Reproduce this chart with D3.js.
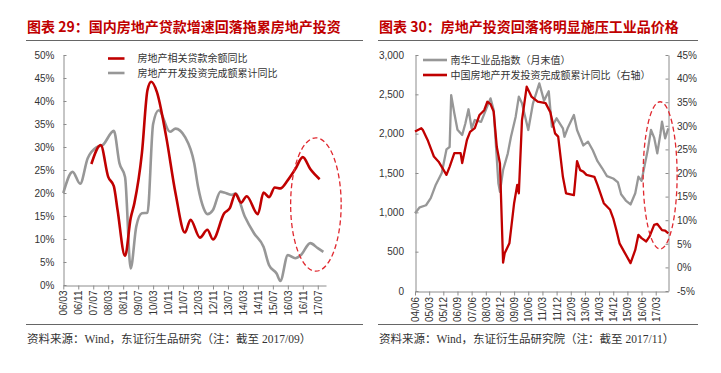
<!DOCTYPE html>
<html><head><meta charset="utf-8">
<script src="https://cdn.jsdelivr.net/npm/d3@7"></script>
<style>body{margin:0;background:#fff}svg{display:block}</style>
</head><body>
<svg id="c" width="721" height="373"></svg>
<script>
// ---------------- DATA ----------------
const leftTitle = "图表 29：国内房地产贷款增速回落拖累房地产投资";
const rightTitle = "图表 30：房地产投资回落将明显施压工业品价格";
const leftSource = "资料来源：Wind，东证衍生品研究（注：截至 2017/09）";
const rightSource = "资料来源：Wind，东证衍生品研究院（注：截至 2017/11）";

const leftSeriesNames = ["房地产相关贷款余额同比", "房地产开发投资完成额累计同比"];
const rightSeriesNames = ["南华工业品指数（月末值）", "中国房地产开发投资完成额累计同比（右轴）"];

const leftXTickLabels = ["06/03","06/11","07/07","08/03","08/11","09/07","10/03","10/11","11/07","12/03","12/11","13/07","14/03","14/11","15/07","16/03","16/11","17/07"];
const leftYTicks = [0,5,10,15,20,25,30,35,40,45,50];

const rightXTickLabels = ["04/06","05/03","05/12","06/09","07/06","08/03","08/12","09/09","10/06","11/03","11/12","12/09","13/06","14/03","14/12","15/09","16/06","17/03"];
const rightYLeftTicks = [0,500,1000,1500,2000,2500,3000];
const rightYRightTicks = [-5,0,5,10,15,20,25,30,35,40,45];

// 房地产相关贷款余额同比 (%)
const loanGrowth = [["2007-05",26.3],["2007-10",30.4],["2008-02",23.5],["2008-05",21.5],["2008-07",16.3],["2008-11",6.3],["2009-02",14.5],["2009-04",17.8],["2009-08",28.6],["2009-11",42.4],["2010-01",44.2],["2010-04",42.0],["2010-09",32.2],["2011-02",19.9],["2011-07",11.4],["2011-10",14.2],["2012-03",10.3],["2012-07",12.0],["2012-10",9.9],["2013-04",15.6],["2013-07",16.7],["2013-10",19.8],["2014-01",17.9],["2014-04",19.3],["2014-10",15.4],["2015-01",20.1],["2015-04",19.1],["2015-07",21.2],["2015-10",21.0],["2016-02",22.8],["2016-06",25.2],["2016-10",27.8],["2017-02",25.2],["2017-07",23.0]];

// 房地产开发投资完成额累计同比 (%), left panel
const investGrowthLeft = [["2006-02",20.0],["2006-07",24.6],["2006-11",22.0],["2007-03",27.5],["2007-08",30.0],["2007-11",30.4],["2008-05",33.5],["2008-08",26.5],["2008-11",23.5],["2009-02",3.6],["2009-05",12.7],["2009-08",15.6],["2009-11",15.7],["2010-02",35.0],["2010-05",38.0],["2010-11",33.3],["2011-02",34.0],["2011-07",32.2],["2011-12",26.4],["2012-02",21.4],["2012-05",16.7],["2012-07",15.4],["2012-10",16.3],["2013-02",20.3],["2013-04",20.1],["2013-08",19.6],["2013-10",19.9],["2014-03",14.9],["2014-08",11.2],["2015-01",8.3],["2015-04",4.3],["2015-08",2.5],["2015-10",0.9],["2016-02",6.5],["2016-06",5.8],["2016-09",6.5],["2017-02",9.1],["2017-06",8.0],["2017-09",7.2]];

// 南华工业品指数（月末值）
const nanhuaIndex = [["2004-06",988],["2004-09",1064],["2005-01",1090],["2005-04",1180],["2005-07",1340],["2005-11",1500],["2006-02",1800],["2006-04",1830],["2006-05",2490],["2006-07",2260],["2006-09",2050],["2006-12",1983],["2007-02",2130],["2007-04",2310],["2007-06",2068],["2007-08",2174],["2007-12",2150],["2008-04",2350],["2008-06",2449],["2008-08",2300],["2008-11",1369],["2008-12",1262],["2009-02",1538],["2009-05",1750],["2009-07",1961],["2009-10",2216],["2009-12",2470],["2010-02",2386],["2010-06",2047],["2010-09",2386],["2011-01",2640],["2011-04",2420],["2011-07",2540],["2011-09",2088],["2011-12",2195],["2012-04",2068],["2012-05",1961],["2012-07",2068],["2012-11",2237],["2013-01",2047],["2013-05",1850],["2013-08",1898],["2013-11",1790],["2014-02",1650],["2014-05",1560],["2014-08",1460],["2014-12",1430],["2015-03",1380],["2015-05",1230],["2015-08",1150],["2015-11",1100],["2016-02",1242],["2016-04",1453],["2016-06",1400],["2016-08",1600],["2016-10",1800],["2016-12",2047],["2017-02",1950],["2017-04",1750],["2017-06",2000],["2017-07",2152],["2017-09",1941],["2017-11",2068]];

// 中国房地产开发投资完成额累计同比 (%), right panel, right axis
const investGrowthRight = [["2004-06",28.8],["2004-10",29.5],["2004-11",29.1],["2005-02",27.0],["2005-06",23.5],["2005-09",22.4],["2005-11",21.3],["2006-02",19.6],["2006-04",21.3],["2006-07",24.2],["2006-11",24.2],["2006-12",22.1],["2007-03",27.0],["2007-05",28.7],["2007-08",29.5],["2007-11",32.3],["2008-02",33.3],["2008-04",35.1],["2008-06",34.6],["2008-08",33.0],["2008-10",25.5],["2008-12",22.0],["2009-02",1.0],["2009-03",3.0],["2009-06",5.1],["2009-09",13.6],["2009-11",17.5],["2009-12",15.7],["2010-02",31.2],["2010-05",38.3],["2010-08",36.2],["2010-12",35.1],["2011-05",34.8],["2011-08",32.9],["2011-11",28.4],["2012-01",27.7],["2012-04",19.2],["2012-06",15.7],["2012-11",15.3],["2013-01",22.5],["2013-03",20.6],["2013-05",20.3],["2013-07",19.6],["2013-12",19.2],["2014-02",17.5],["2014-06",13.6],["2014-10",12.2],["2014-12",10.4],["2015-02",7.9],["2015-04",5.1],["2015-07",3.3],["2015-11",0.9],["2016-02",3.7],["2016-04",6.9],["2016-06",6.2],["2016-09",5.5],["2016-11",6.5],["2017-02",9.0],["2017-04",9.2],["2017-07",7.9],["2017-09",7.8],["2017-11",7.2]];

// ---------------- DRAWING ----------------
const RED = "#c00000", GRAY = "#979797", AXIS = "#8c8c8c", TXT = "#333";
const NUMFONT = "'Liberation Sans', Arial, sans-serif";
const CJK = "'Noto Sans CJK SC', sans-serif";
const svg = d3.select("#c");

function monthsSince(s, base) {
  const [y, m] = s.split("-").map(Number);
  const [by, bm] = base.split("-").map(Number);
  return (y - by) * 12 + (m - bm);
}
function tickIndex(lbl, base) {
  const [yy, mm] = lbl.split("/");
  return monthsSince("20" + yy + "-" + mm, base);
}

// titles, rules, sources
function header(x0, x1, title, source) {
  svg.append("text").attr("x", x0 + 1).attr("y", 31.5).attr("fill", RED)
    .attr("font-family", CJK).attr("font-weight", 700).attr("font-size", 14).text(title);
  svg.append("line").attr("x1", x0).attr("x2", x1).attr("y1", 40.5).attr("y2", 40.5)
    .attr("stroke", "#666").attr("stroke-width", 1);
  svg.append("line").attr("x1", x0).attr("x2", x1).attr("y1", 324.5).attr("y2", 324.5)
    .attr("stroke", "#666").attr("stroke-width", 1);
  svg.append("text").attr("x", x0 + 1).attr("y", 342.5).attr("fill", TXT)
    .attr("font-family", "'Liberation Serif', 'Noto Sans CJK SC', serif").attr("font-size", 11.5).text(source);
}
header(26, 363, leftTitle, leftSource);
header(378, 698, rightTitle, rightSource);

function styleAxis(g) {
  g.selectAll("path,line").attr("stroke", AXIS).attr("stroke-width", 1);
  g.selectAll("text").attr("fill", TXT).attr("font-family", NUMFONT).attr("font-size", 10);
}
function rotateLabels(g, off) {
  g.selectAll("text").attr("transform", "rotate(-90)").attr("text-anchor", "end")
    .attr("x", -off).attr("y", 0).attr("dy", "0.35em");
}

// ===== LEFT PANEL =====
const baseL = "2006-03";
const xL = d3.scaleLinear().domain([0, 140.4]).range([63.3, 326]);
const yL = d3.scaleLinear().domain([0, 50]).range([285, 55]);
const posL = d => monthsSince(d[0], baseL) + 1;

svg.append("g").attr("transform", "translate(63.5,0)")
  .call(d3.axisLeft(yL).tickValues(leftYTicks).tickFormat(d => d + "%").tickSizeInner(-3).tickSizeOuter(0).tickPadding(9))
  .call(styleAxis);
svg.append("g").attr("transform", "translate(0,285.5)")
  .call(d3.axisBottom(xL).tickValues(leftXTickLabels.map(l => tickIndex(l, baseL))).tickFormat((d, i) => leftXTickLabels[i]).tickSizeInner(4).tickSizeOuter(0))
  .call(styleAxis).call(g => rotateLabels(g, 5));

const lineL = d3.line().x(d => xL(posL(d))).y(d => yL(d[1])).curve(d3.curveMonotoneX);
svg.append("path").datum(investGrowthLeft).attr("d", lineL).attr("fill", "none")
  .attr("stroke", GRAY).attr("stroke-width", 2.6).attr("stroke-linejoin", "round");
svg.append("path").datum(loanGrowth).attr("d", lineL).attr("fill", "none")
  .attr("stroke", RED).attr("stroke-width", 2.6).attr("stroke-linejoin", "round");

// ellipse annotation (left)
svg.append("ellipse")
  .attr("cx", xL(135)).attr("cy", yL(17.5))
  .attr("rx", (xL(148.5) - xL(121.5)) / 2).attr("ry", (yL(3) - yL(32)) / 2)
  .attr("fill", "none").attr("stroke", "#e0282f").attr("stroke-width", 1.3).attr("stroke-dasharray", "5,3");

// legend (left)
const legL = [[RED, leftSeriesNames[0]], [GRAY, leftSeriesNames[1]]];
legL.forEach((d, i) => {
  const y = 58.5 + i * 14.5;
  svg.append("line").attr("x1", 108).attr("x2", 124.5).attr("y1", y).attr("y2", y)
    .attr("stroke", d[0]).attr("stroke-width", 2.6);
  svg.append("text").attr("x", 137.5).attr("y", y).attr("dy", "0.36em").attr("fill", TXT)
    .attr("font-family", CJK).attr("font-size", 10).text(d[1]);
});

// ===== RIGHT PANEL =====
const baseR = "2004-06";
const xR = d3.scaleLinear().domain([0, 161]).range([415, 668.3]);
const yRL = d3.scaleLinear().domain([0, 3000]).range([291, 55]);
const yRR = d3.scaleLinear().domain([-5, 45]).range([291, 55]);
const posR = d => monthsSince(d[0], baseR);

svg.append("g").attr("transform", "translate(415.5,0)")
  .call(d3.axisLeft(yRL).tickValues(rightYLeftTicks).tickFormat(d3.format(",")).tickSizeInner(-3).tickSizeOuter(0).tickPadding(11.5))
  .call(styleAxis);
svg.append("g").attr("transform", "translate(668.5,0)")
  .call(d3.axisRight(yRR).tickValues(rightYRightTicks).tickFormat(d => d + "%").tickSizeInner(-3).tickSizeOuter(0).tickPadding(8.5))
  .call(styleAxis);
svg.append("g").attr("transform", "translate(0,291.5)")
  .call(d3.axisBottom(xR).tickValues(rightXTickLabels.map(l => tickIndex(l, baseR))).tickFormat((d, i) => rightXTickLabels[i]).tickSizeInner(4).tickSizeOuter(0))
  .call(styleAxis).call(g => rotateLabels(g, 5.5));

svg.append("path").datum(nanhuaIndex)
  .attr("d", d3.line().x(d => xR(posR(d))).y(d => yRL(d[1])))
  .attr("fill", "none").attr("stroke", GRAY).attr("stroke-width", 2.3).attr("stroke-linejoin", "round");
svg.append("path").datum(investGrowthRight)
  .attr("d", d3.line().x(d => xR(posR(d))).y(d => yRR(d[1])))
  .attr("fill", "none").attr("stroke", RED).attr("stroke-width", 2.3).attr("stroke-linejoin", "round");

// ellipse annotation (right)
svg.append("ellipse")
  .attr("cx", xR(155.8)).attr("cy", yRR(19.5))
  .attr("rx", (xR(166.6) - xR(145)) / 2).attr("ry", (yRR(3.9) - yRR(35.1)) / 2)
  .attr("fill", "none").attr("stroke", "#e0282f").attr("stroke-width", 1.3).attr("stroke-dasharray", "5,3");

// legend (right)
const legR = [[GRAY, rightSeriesNames[0]], [RED, rightSeriesNames[1]]];
legR.forEach((d, i) => {
  const y = 60 + i * 15;
  svg.append("line").attr("x1", 423).attr("x2", 447).attr("y1", y).attr("y2", y)
    .attr("stroke", d[0]).attr("stroke-width", 2.6);
  svg.append("text").attr("x", 450.5).attr("y", y).attr("dy", "0.36em").attr("fill", TXT)
    .attr("font-family", CJK).attr("font-size", 10).text(d[1]);
});
</script>
</body></html>
